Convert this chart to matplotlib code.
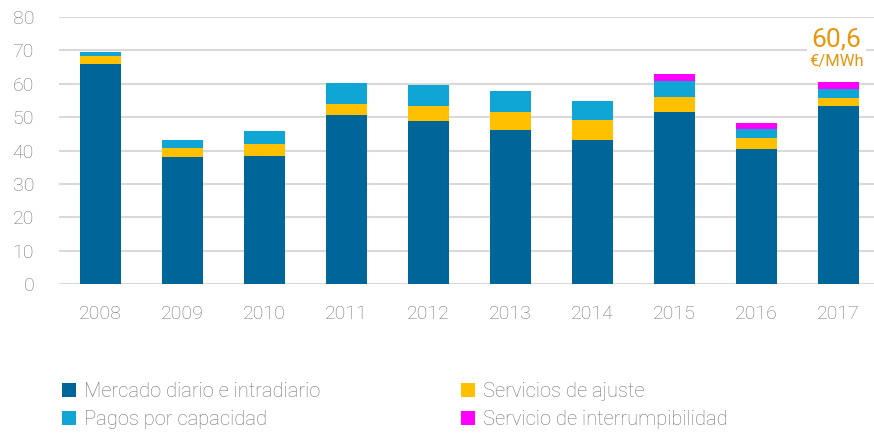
import numpy as np
import matplotlib.pyplot as plt

plt.rcParams['font.family'] = ['Roboto', 'DejaVu Sans']
plt.rcParams['font.weight'] = 'light'

years = ['2008', '2009', '2010', '2011', '2012', '2013', '2014', '2015', '2016', '2017']
mercado = [65.8, 38.0, 38.3, 50.7, 48.7, 46.0, 43.2, 51.5, 40.5, 53.2]
ajuste = [2.6, 2.7, 3.7, 3.3, 4.7, 5.6, 5.8, 4.4, 3.1, 2.5]
capacidad = [1.1, 2.5, 3.7, 6.1, 6.1, 6.1, 5.9, 5.0, 2.7, 2.7]
interrump = [0, 0, 0, 0, 0, 0, 0, 1.9, 2.0, 2.2]

c_merc = '#006699'
c_ajus = '#FFC000'
c_cap = '#0FA6D6'
c_int = '#FF00FF'
grey = '#757575'

fig = plt.figure(figsize=(8.74, 4.33), dpi=100)
ax = fig.add_axes([59/874, 1-284/433, 820/874, 267/433])

x = np.arange(len(years))
w = 0.5
b1 = ax.bar(x, mercado, w, color=c_merc, zorder=3, label='Mercado diario e intradiario')
bottom = np.array(mercado)
b2 = ax.bar(x, ajuste, w, bottom=bottom, color=c_ajus, zorder=3, label='Servicios de ajuste')
bottom = bottom + np.array(ajuste)
b3 = ax.bar(x, capacidad, w, bottom=bottom, color=c_cap, zorder=3, label='Pagos por capacidad')
bottom = bottom + np.array(capacidad)
b4 = ax.bar(x, interrump, w, bottom=bottom, color=c_int, zorder=3, label='Servicio de interrumpibilidad')
total = bottom + np.array(interrump)

ax.set_xlim(-0.5, len(years)-0.5)
ax.set_ylim(0, 80)
ax.set_yticks(np.arange(0, 81, 10))
ax.set_xticks(x)
ax.set_xticklabels(years)
ax.grid(axis='y', color='#d9d9d9', linewidth=1.5, zorder=0)
ax.set_axisbelow(True)
for s in ax.spines.values():
    s.set_visible(False)
ax.tick_params(axis='both', length=0, colors=grey, labelsize=14)
ax.tick_params(axis='y', pad=18)
ax.tick_params(axis='x', pad=15)

# total 2017
ax.text(x[-1] - 0.02, 73.3, f'{total[-1]:.1f}'.replace('.', ','), ha='center', va='center',
        fontsize=19, color='#E8960C', fontweight='normal', zorder=4,
        bbox=dict(facecolor='white', edgecolor='none', pad=3))
ax.text(x[-1] - 0.02, 66.7, '€/MWh', ha='center', va='center', fontsize=12,
        color='#E8960C', fontweight='normal', zorder=4)

leg_kw = dict(ncol=1, loc='center left', frameon=False, fontsize=14.5,
              handlelength=0.7, handleheight=0.7, handletextpad=0.4,
              labelspacing=0.45, borderpad=0, borderaxespad=0, labelcolor=grey)
fig.legend(handles=[b1, b3], bbox_to_anchor=(62/874, 1-405.7/433), **leg_kw)
fig.legend(handles=[b2, b4], bbox_to_anchor=(461/874, 1-405.7/433), **leg_kw)

plt.savefig('out.png', dpi=100)
